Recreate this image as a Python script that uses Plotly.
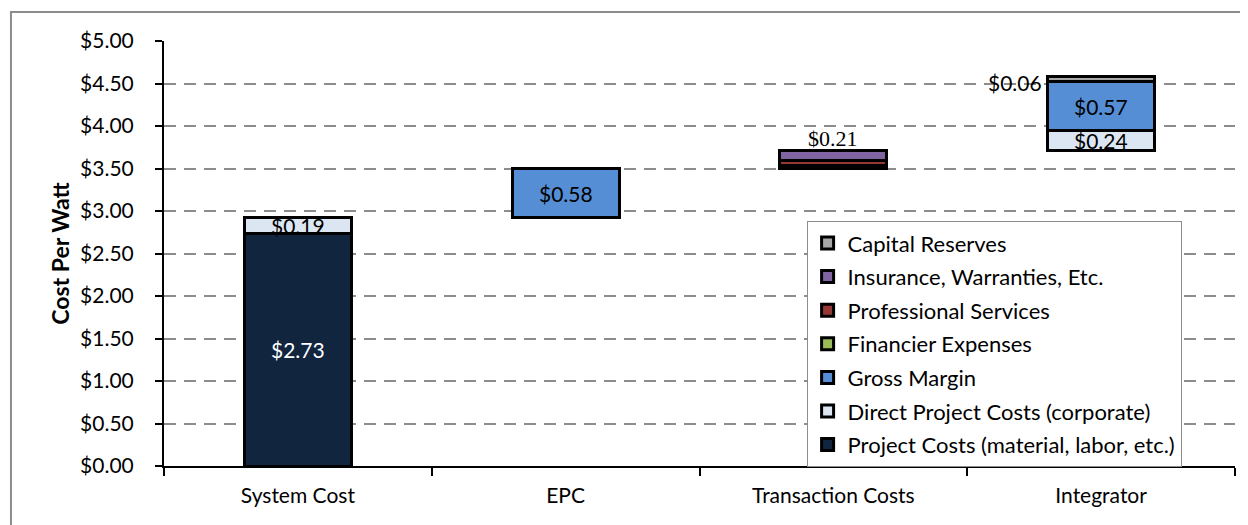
import plotly.graph_objects as go

categories = ["System Cost", "EPC", "Transaction Costs", "Integrator"]
base_values = [0, 2.92, 3.50, 3.71]
project_costs = [2.73, None, None, None]
direct_project_costs = [0.19, None, None, 0.24]
gross_margin = [None, 0.58, None, 0.57]
financier_expenses = [None, None, 0.03, None]
professional_services = [None, None, 0.06, None]
insurance = [None, None, 0.12, None]
capital_reserves = [None, None, None, 0.06]

series = [
    ("Project Costs (material, labor, etc.)", project_costs, "#11253F"),
    ("Direct Project Costs (corporate)", direct_project_costs, "#DCE6F2"),
    ("Gross Margin", gross_margin, "#558ED5"),
    ("Financier Expenses", financier_expenses, "#9BBB59"),
    ("Professional Services", professional_services, "#953735"),
    ("Insurance, Warranties, Etc.", insurance, "#8064A2"),
    ("Capital Reserves", capital_reserves, "#A6A6A6"),
]

FONT = "Lato"
FS = 21

fig = go.Figure()
fig.add_trace(go.Bar(x=categories, y=base_values, marker=dict(color="rgba(0,0,0,0)", line=dict(width=0)),
                     showlegend=False, hoverinfo="skip"))
for i, (name, vals, col) in enumerate(series):
    fig.add_trace(go.Bar(x=categories, y=vals, name=name, legendgroup=name,
                         legendrank=100 + len(series) - i,
                         marker=dict(color=col, line=dict(color="black", width=3))))

# data labels
ann = []
def lab(cat_i, y, text, color="black", family=FONT, size=FS, **kw):
    d = dict(x=categories[cat_i], y=y, text=text, showarrow=False,
             font=dict(family=family, size=size, color=color))
    d.update(kw)
    ann.append(d)

lab(0, project_costs[0] / 2, "$%.2f" % project_costs[0], color="white")
lab(0, project_costs[0] + direct_project_costs[0] / 2, "$%.2f" % direct_project_costs[0])
lab(1, base_values[1] + gross_margin[1] / 2, "$%.2f" % gross_margin[1])
tc_total = financier_expenses[2] + professional_services[2] + insurance[2]
lab(2, base_values[2] + tc_total, "$%.2f" % tc_total, family="Liberation Serif", size=22,
    yanchor="bottom", yshift=-2)
lab(3, base_values[3] + direct_project_costs[3] / 2, "$%.2f" % direct_project_costs[3])
lab(3, base_values[3] + direct_project_costs[3] + gross_margin[3] / 2, "$%.2f" % gross_margin[3])
lab(3, base_values[3] + direct_project_costs[3] + gross_margin[3] + capital_reserves[3] / 2,
    "$%.2f" % capital_reserves[3], xanchor="right", xshift=-57, yshift=-3)

fig.update_layout(
    barmode="stack",
    bargap=0.6,
    width=1240, height=517,
    margin=dict(l=156, r=13, t=33, b=59),
    paper_bgcolor="white", plot_bgcolor="white",
    font=dict(family=FONT, size=FS, color="black"),
    annotations=ann,
    showlegend=True,
    legend=dict(x=0.6, y=0.576, xanchor="left", yanchor="top", traceorder="grouped",
                bgcolor="white", bordercolor="#8C8C8C", borderwidth=1,
                font=dict(family=FONT, size=22, color="black"), tracegroupgap=2,
                itemwidth=30),
    shapes=[dict(type="rect", xref="paper", yref="paper", x0=-0.1429, x1=1.05, y0=-0.2, y1=1.068,
                 line=dict(color="#8C8C8C", width=2), layer="below")],
)
fig.update_yaxes(range=[0, 5], dtick=0.5, tickformat="$.2f", showgrid=True, gridcolor="#8C8C8C",
                 gridwidth=1.5, griddash="12px,8px", showline=True, linecolor="black", linewidth=2,
                 ticks="outside", ticklen=7, tickcolor="black", tickwidth=1.5, ticklabelstandoff=17,
                 tickfont=dict(family=FONT, size=FS), zeroline=False,
                 title=dict(text="<b>Cost Per Watt</b>", font=dict(family=FONT, size=23), standoff=4))
fig.update_xaxes(showline=True, linecolor="black", linewidth=2, ticks="outside", tickson="boundaries",
                 ticklen=8, tickcolor="black", tickwidth=1.5, tickfont=dict(family=FONT, size=FS),
                 ticklabelstandoff=10)

fig.write_html("out.html")
